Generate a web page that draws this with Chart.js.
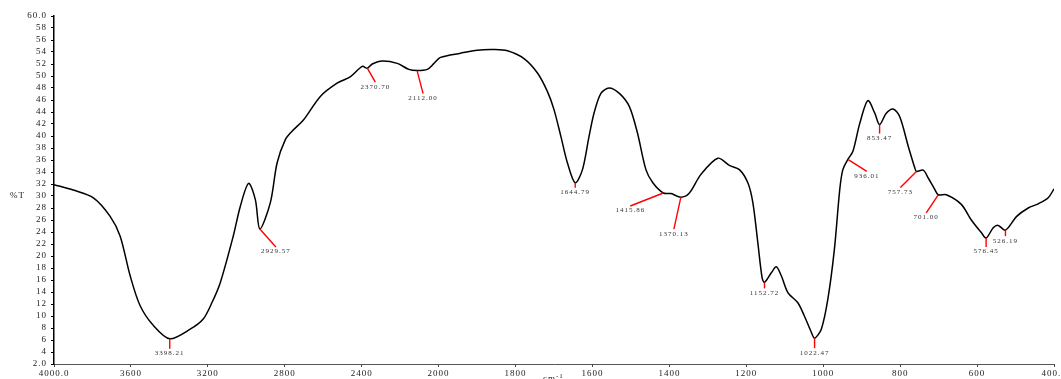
<!DOCTYPE html>
<html>
<head>
<meta charset="utf-8">
<script src="https://cdn.jsdelivr.net/npm/chart.js@4/dist/chart.umd.min.js"></script>
<style>
  html, body { margin: 0; padding: 0; background: #fff; overflow: hidden; }
  #wrap { width: 1061px; height: 379px; }
</style>
</head>
<body>
<div id="wrap"><canvas id="ir" width="1061" height="379"></canvas></div>
<script>
// IR spectrum: wavenumber (cm-1) against transmittance (%T)
const wavenumbers = [
  4000, 3900, 3795, 3708, 3656, 3604, 3552, 3483, 3398.21, 3292, 3224, 3179, 3135, 3068, 3031,
  2988, 2953, 2929.57, 2875, 2840, 2797, 2762, 2702, 2615, 2528, 2458, 2397, 2370.70, 2345,
  2293, 2215, 2155, 2112.00, 2059, 2024, 1995, 1943, 1899, 1856, 1821, 1778, 1743, 1717,
  1700, 1682, 1665, 1644.79, 1626, 1609, 1596, 1578, 1557, 1530, 1504, 1483, 1461, 1443,
  1415.86, 1396, 1370.13, 1348, 1318, 1274, 1244, 1218, 1196, 1183, 1170, 1159, 1152.72,
  1135, 1122, 1109, 1092, 1066, 1049, 1031, 1022.47, 1005, 988, 971, 957, 949, 936.01,
  923, 905, 884, 866, 853.47, 836, 818, 801, 779, 762, 757.73, 740, 727, 710, 701.00,
  680, 641, 615, 589, 576.45, 558, 545, 526.19, 497, 467, 441, 415, 400
];
const transmittance = [
  31.9, 31.0, 29.7, 26.6, 23.3, 16.7, 11.7, 8.4, 6.2, 7.8, 9.5, 12.2, 15.6, 23.3, 28.3,
  32.1, 29.4, 24.5, 28.9, 35.5, 39.4, 40.8, 42.7, 46.6, 48.8, 49.9, 51.6, 51.3, 52.0,
  52.5, 52.1, 51.1, 50.9, 51.1, 52.1, 53.1, 53.8, 54.3, 54.4, 54.2, 52.9, 50.5, 47.4,
  44.4, 39.9, 35.5, 32.2, 34.4, 39.9, 43.8, 47.1, 48.0, 47.1, 44.9, 40.5, 34.4, 32.2,
  30.5, 30.4, 29.8, 30.5, 33.6, 36.3, 35.1, 34.4, 32.2, 28.9, 22.2, 16.4, 15.6,
  17.2, 18.2, 16.7, 13.9, 12.2, 10.0, 7.3, 6.3, 7.8, 12.8, 21.1, 31.1, 34.4, 36.1,
  37.4, 42.1, 45.9, 43.8, 41.9, 43.8, 44.5, 43.2, 38.3, 34.7, 34.1, 34.3, 33.0, 31.1, 30.2,
  30.2, 28.6, 26.0, 23.9, 23.0, 24.7, 25.1, 24.3, 26.6, 28.0, 28.7, 29.7, 31.2
];
const peakLabels = [
  '3398.21', '2929.57', '2370.70', '2112.00', '1644.79', '1415.86', '1370.13',
  '1152.72', '1022.47', '936.01', '853.47', '757.73', '701.00', '576.45', '526.19'
];
const xTickValues = [4000, 3600, 3200, 2800, 2400, 2000, 1800, 1600, 1400, 1200, 1000, 800, 600, 400];
const xTickLabels = ['4000.0', '3600', '3200', '2800', '2400', '2000', '1800', '1600', '1400', '1200', '1000', '800', '600', '400.0'];
const yTickValues = [2, 4, 6, 8, 10, 12, 14, 16, 18, 20, 22, 24, 26, 28, 30, 32, 34, 36, 38, 40, 42, 44, 46, 48, 50, 52, 54, 56, 58, 60];
const yTickLabels = ['2.0', '4', '6', '8', '10', '12', '14', '16', '18', '20', '22', '24', '26', '28', '30', '32', '34', '36', '38', '40', '42', '44', '46', '48', '50', '52', '54', '56', '58', '60.0'];

// Leader line offsets (px) from each peak to its label
const leaderOffsets = [
  [0, 10], [16, 18], [8, 14], [6, 23], [0, 5], [-33, 13], [-7, 32],
  [0, 6], [0, 10], [19, 12], [0, 9], [-16, 16], [-12, 18], [0, 9], [0, 6]
];

// The wavenumber axis is compressed 2:1 above 2000 cm-1
function toAxis(w) {
  return w >= 2000 ? (4000 - w) / 400 : 5 + (2000 - w) / 200;
}

const FONT = '"Liberation Serif", "Times New Roman", serif';
const points = wavenumbers.map((w, i) => ({ x: toAxis(w), y: transmittance[i] }));

const spacingPlugin = {
  id: 'spacing',
  beforeDraw(chart) { chart.ctx.letterSpacing = '1px'; }
};

const peakPlugin = {
  id: 'peaks',
  afterDatasetsDraw(chart) {
    const { ctx, scales: { x, y } } = chart;
    ctx.save();
    ctx.letterSpacing = '1px';
    peakLabels.forEach((label, i) => {
      const w = parseFloat(label);
      const idx = wavenumbers.indexOf(w);
      const px = x.getPixelForValue(toAxis(w));
      const py = y.getPixelForValue(transmittance[idx]);
      const [dx, dy] = leaderOffsets[i];
      ctx.strokeStyle = '#ff0000';
      ctx.lineWidth = 1.4;
      ctx.beginPath();
      ctx.moveTo(px, py);
      ctx.lineTo(px + dx, py + dy);
      ctx.stroke();
      ctx.fillStyle = '#333';
      ctx.font = '7px ' + FONT;
      ctx.textAlign = 'center';
      ctx.textBaseline = 'top';
      ctx.fillText(label, px + dx, py + dy + 1);
    });
    ctx.restore();
  },
  afterDraw(chart) {
    const { ctx, chartArea } = chart;
    ctx.save();
    ctx.letterSpacing = '1px';
    ctx.fillStyle = '#222';
    ctx.textBaseline = 'middle';
    ctx.textAlign = 'left';
    ctx.font = '9px ' + FONT;
    ctx.fillText('%T', 10, 196);
    const cx = (chartArea.left + chartArea.right) / 2;
    ctx.textBaseline = 'alphabetic';
    ctx.textAlign = 'right';
    ctx.fillText('cm', cx + 2, 381);
    ctx.textAlign = 'left';
    ctx.font = '7px ' + FONT;
    ctx.fillText('-1', cx + 2, 378);
    ctx.restore();
  }
};

new Chart(document.getElementById('ir'), {
  type: 'line',
  data: {
    datasets: [{
      data: points,
      borderColor: '#000',
      borderWidth: 1.5,
      pointRadius: 0,
      tension: 0.3,
      fill: false
    }]
  },
  options: {
    responsive: false,
    animation: false,
    devicePixelRatio: 1,
    layout: { padding: { top: 16, right: 7, left: 0, bottom: 0 } },
    plugins: { legend: { display: false }, tooltip: { enabled: false } },
    scales: {
      x: {
        type: 'linear',
        min: 0,
        max: toAxis(400),
        afterBuildTicks(scale) {
          scale.ticks = xTickValues.map(w => ({ value: toAxis(w) }));
        },
        afterFit(scale) {
          scale.height = 15;
          scale.paddingLeft = 0;
          scale.paddingRight = 0;
        },
        ticks: {
          autoSkip: false,
          maxRotation: 0,
          padding: 1,
          color: '#222',
          font: { family: FONT, size: 9 },
          callback(value, index) { return xTickLabels[index]; }
        },
        grid: { drawOnChartArea: false, drawTicks: true, tickLength: 3, color: '#444' },
        border: { display: true, color: '#555', width: 1 }
      },
      y: {
        type: 'linear',
        min: 2,
        max: 60,
        afterBuildTicks(scale) {
          scale.ticks = yTickValues.map(v => ({ value: v }));
        },
        afterFit(scale) { scale.width = 54; },
        ticks: {
          autoSkip: false,
          padding: 4,
          color: '#222',
          font: { family: FONT, size: 9 },
          callback(value, index) { return yTickLabels[index]; }
        },
        grid: { drawOnChartArea: false, drawTicks: true, tickLength: 3, color: '#000' },
        border: { display: true, color: '#000', width: 1.5 }
      }
    }
  },
  plugins: [spacingPlugin, peakPlugin]
});
</script>
</body>
</html>
